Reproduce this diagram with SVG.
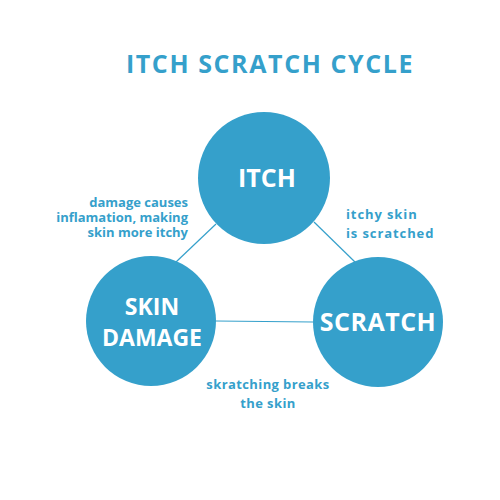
<svg xmlns="http://www.w3.org/2000/svg" width="500" height="500" viewBox="0 0 500 500">
<style>
.node{fill:#35a0cb}
.nt{fill:#fff;font-family:"Open Sans","Liberation Sans",sans-serif;font-weight:bold;text-anchor:middle}
.lbl{fill:#35a0cb;font-family:"Open Sans","Liberation Sans",sans-serif;font-weight:bold;font-size:13px}
.edge{stroke:#35a0cb;stroke-width:1.2;fill:none}
</style>
<rect width="500" height="500" fill="#fff"/>
<text x="270" y="73" text-anchor="middle" font-family="'Open Sans','Liberation Sans',sans-serif" font-weight="bold" font-size="25" fill="#35a0cb" letter-spacing="1.6">ITCH SCRATCH CYCLE</text>
<g id="connectors">
<line class="edge" x1="216" y1="224" x2="176" y2="262"/>
<line class="edge" x1="314" y1="222" x2="356" y2="263"/>
<line class="edge" x1="216" y1="321" x2="313" y2="322"/>
</g>
<g id="itch">
<circle class="node" cx="264" cy="178" r="66"/>
<text class="nt" x="267" y="187" font-size="25">ITCH</text>
</g>
<g id="skin-damage">
<circle class="node" cx="151" cy="321" r="65"/>
<text class="nt" x="152" y="315" font-size="23">SKIN</text>
<text class="nt" x="152" y="346" font-size="23">DAMAGE</text>
</g>
<g id="scratch">
<circle class="node" cx="378" cy="322" r="65"/>
<text class="nt" x="378" y="331" font-size="25" letter-spacing="0.5">SCRATCH</text>
</g>
<g id="labels">
<text class="lbl" text-anchor="end" x="188" y="207">damage causes</text>
<text class="lbl" text-anchor="end" x="188" y="222">inflamation, making</text>
<text class="lbl" text-anchor="end" x="188" y="237">skin more itchy</text>
<text class="lbl" x="346" y="219" font-size="16.5" letter-spacing="0.9">itchy skin</text>
<text class="lbl" x="346" y="238" font-size="16.5" letter-spacing="0.9">is scratched</text>
<text class="lbl" text-anchor="middle" x="268" y="389" font-size="15" letter-spacing="0.4">skratching breaks</text>
<text class="lbl" text-anchor="middle" x="268" y="408" font-size="15" letter-spacing="0.4">the skin</text>
</g>
</svg>
